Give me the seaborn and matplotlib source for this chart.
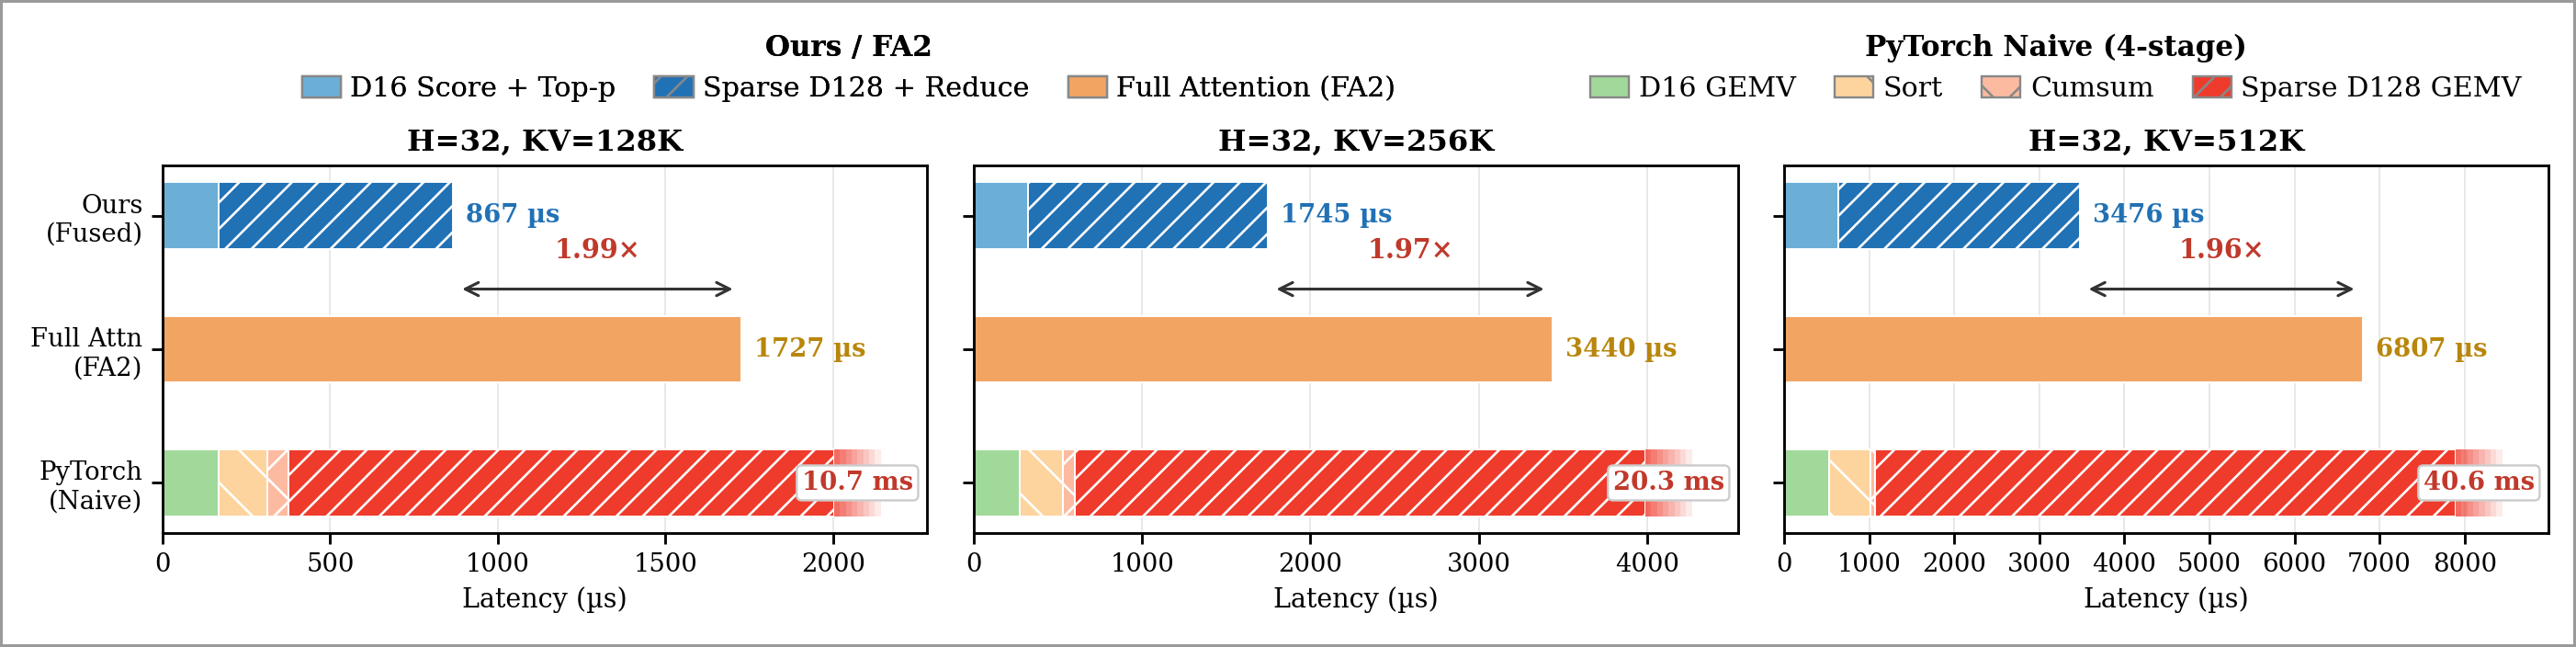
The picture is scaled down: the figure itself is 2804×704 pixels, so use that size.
import numpy as np
import matplotlib
matplotlib.use("Agg")
import matplotlib.pyplot as plt
import seaborn as sns
from matplotlib.patches import Patch
from matplotlib.ticker import MultipleLocator

# ---------------- data ----------------
configs = ["H=32, KV=128K", "H=32, KV=256K", "H=32, KV=512K"]
methods = ["Ours\n(Fused)", "Full Attn\n(FA2)", "PyTorch\n(Naive)"]
ours_d16 = [166, 321, 637]            # D16 Score + Top-p (µs)
ours_total = [867, 1745, 3476]        # fused total (µs)
fa2_total = [1727, 3440, 6807]        # full attention (µs)
naive_d16 = [166, 271, 530]           # D16 GEMV (µs)
naive_sort = [147, 257, 480]          # Sort (µs)
naive_cumsum = [62, 72, 60]           # Cumsum (µs)
naive_total_ms = [10.7, 20.3, 40.6]   # PyTorch naive total (ms)
x_steps = [500, 1000, 1000]

# ---------------- style ----------------
sns.set_theme(style="whitegrid", rc={
    "axes.edgecolor": "black",
    "axes.linewidth": 1.2,
    "xtick.bottom": True,
    "ytick.left": True,
    "xtick.major.size": 5,
    "ytick.major.size": 5,
    "xtick.major.width": 1.2,
    "ytick.major.width": 1.2,
    "xtick.color": "black",
    "ytick.color": "black",
    "xtick.major.pad": 4,
    "ytick.major.pad": 4,
    "hatch.linewidth": 1.1,
})
plt.rcParams["font.family"] = ["DejaVu Serif", "DejaVu Sans"]
plt.rcParams["text.color"] = "black"
plt.rcParams["axes.labelcolor"] = "black"

C_D16S = "#6baed6"
C_SPARSE = "#2171b5"
C_FA2 = "#f2a563"
C_GEMV = "#a1d99b"
C_SORT = "#fdd49e"
C_CUMSUM = "#fcbba1"
C_NSPARSE = "#ef3b2c"
C_RED_TXT = "#c0392b"
C_BLUE_TXT = "#2171b5"
C_GOLD_TXT = "#b8860b"

DPI = 172
fig = plt.figure(figsize=(2804 / DPI, 704 / DPI), dpi=DPI)
fig.patch.set_facecolor("white")
fig.patch.set_edgecolor("#9a9a9a")
fig.patch.set_linewidth(2.5)

lefts = [177 / 2804, 1060 / 2804, 1942 / 2804]
width = 832 / 2804
bottom = 1 - 580 / 704
height = 400 / 704
H = 0.5

for i in range(3):
    ax = fig.add_axes([lefts[i], bottom, width, height])
    fa = fa2_total[i]
    cap = 1.16 * fa
    xmax = 1.32 * fa

    # Ours (fused)
    ax.barh(0, ours_d16[i], left=0, height=H, color=C_D16S, edgecolor="white", linewidth=0.8)
    ax.barh(0, ours_total[i] - ours_d16[i], left=ours_d16[i], height=H, color=C_SPARSE,
            edgecolor="white", linewidth=0.8, hatch="//")
    # FA2
    ax.barh(1, fa, left=0, height=H, color=C_FA2, edgecolor="white", linewidth=0.8)
    # PyTorch naive
    segs = [naive_d16[i], naive_sort[i], naive_cumsum[i]]
    cols = [C_GEMV, C_SORT, C_CUMSUM]
    hatches = [None, "\\", "x"]
    left = 0
    for w, c, h in zip(segs, cols, hatches):
        ax.barh(2, w, left=left, height=H, color=c, edgecolor="white", linewidth=0.8, hatch=h)
        left += w
    ax.barh(2, cap - left, left=left, height=H, color=C_NSPARSE, edgecolor="white",
            linewidth=0.8, hatch="//")
    # fade beyond the axis cap
    n_fade = 8
    fade_w = 0.08 * fa / n_fade
    for k, a in enumerate(np.linspace(0.75, 0.1, n_fade)):
        ax.barh(2, fade_w, left=cap + k * fade_w, height=H, color=C_NSPARSE, alpha=a,
                linewidth=0)

    # labels
    off = 0.022 * fa
    ax.text(ours_total[i] + off, 0, f"{ours_total[i]} µs", ha="left", va="center",
            color=C_BLUE_TXT, fontweight="bold", fontsize=11.5)
    ax.text(fa + off, 1, f"{fa} µs", ha="left", va="center",
            color=C_GOLD_TXT, fontweight="bold", fontsize=11.5)
    ax.text(1.20 * fa, 2, f"{naive_total_ms[i]:.1f} ms", ha="center", va="center",
            color=C_RED_TXT, fontweight="bold", fontsize=11.5,
            bbox=dict(boxstyle="round,pad=0.2", fc="white", ec="#cccccc", lw=1.0))

    # speedup arrow
    ax.annotate("", xy=(fa, 0.55), xytext=(ours_total[i], 0.55),
                arrowprops=dict(arrowstyle="<->,head_length=0.5,head_width=0.25",
                                color="#333333", lw=1.3, shrinkA=4, shrinkB=4,
                                mutation_scale=12))
    ax.text((ours_total[i] + fa) / 2, 0.26, f"{fa / ours_total[i]:.2f}×",
            ha="center", va="center", color=C_RED_TXT, fontweight="bold", fontsize=12)

    ax.set_xlim(0, xmax)
    ax.set_ylim(2.375, -0.375)
    ax.xaxis.set_major_locator(MultipleLocator(x_steps[i]))
    ax.set_yticks([0, 1, 2])
    if i == 0:
        ax.set_yticklabels(methods, fontsize=11.5)
    else:
        ax.set_yticklabels([])
    ax.tick_params(axis="x", labelsize=11.5)
    ax.set_xlabel("Latency (µs)", fontsize=12)
    ax.set_title(configs[i], fontweight="bold", fontsize=13.5, pad=7)
    ax.grid(axis="x", color="#e8e8e8", linewidth=0.8)
    ax.grid(axis="y", visible=False)
    ax.set_axisbelow(True)
    for s in ax.spines.values():
        s.set_color("black")
        s.set_linewidth(1.2)

# ---------------- legends ----------------
leg_kw = dict(loc="center", frameon=False, fontsize=12.6,
              title_fontproperties={"weight": "bold", "size": 13},
              handlelength=1.4, handleheight=0.77, handletextpad=0.35, columnspacing=1.4)
h1 = [Patch(facecolor=C_D16S, edgecolor="#888888", label="D16 Score + Top-p"),
      Patch(facecolor=C_SPARSE, edgecolor="#888888", hatch="//", label="Sparse D128 + Reduce"),
      Patch(facecolor=C_FA2, edgecolor="#888888", label="Full Attention (FA2)")]
h2 = [Patch(facecolor=C_GEMV, edgecolor="#888888", label="D16 GEMV"),
      Patch(facecolor=C_SORT, edgecolor="#888888", hatch="\\", label="Sort"),
      Patch(facecolor=C_CUMSUM, edgecolor="#888888", hatch="x", label="Cumsum"),
      Patch(facecolor=C_NSPARSE, edgecolor="#888888", hatch="//", label="Sparse D128 GEMV")]
l1 = fig.legend(handles=h1, title="Ours / FA2", ncol=3,
                bbox_to_anchor=(924 / 2804, 0.895), **leg_kw)
fig.add_artist(l1)
l2 = fig.legend(handles=h2, title="PyTorch Naive (4-stage)", ncol=4,
                bbox_to_anchor=(2238 / 2804, 0.895), **leg_kw)

fig.savefig("out.png", dpi=DPI)
